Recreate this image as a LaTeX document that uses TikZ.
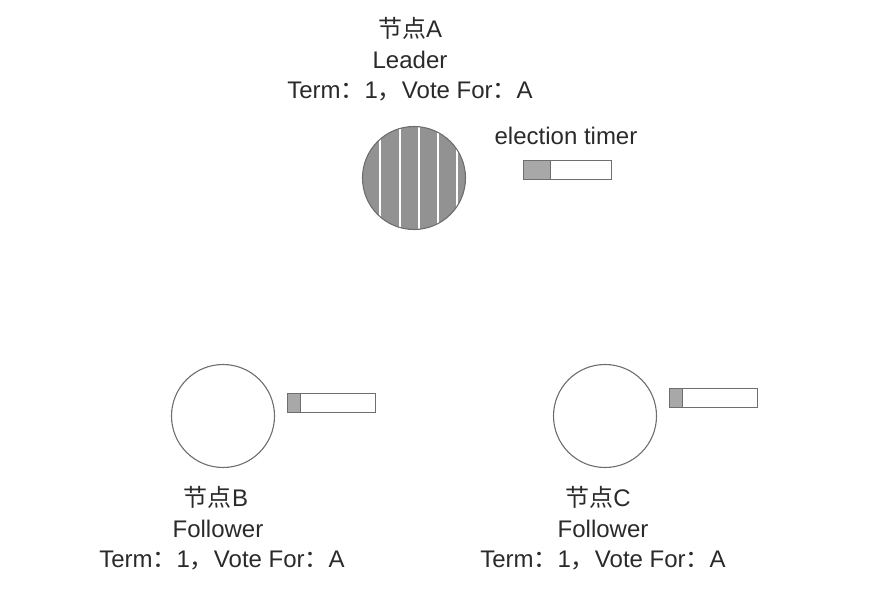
\documentclass[tikz,border=0pt]{standalone}
\usepackage{fontspec}
\setmainfont{Liberation Sans}
\newfontfamily\cjk{Noto Sans CJK SC}
\usetikzlibrary{positioning}

\definecolor{rim}{HTML}{6E6E6E}
\definecolor{ink}{HTML}{2A2A2A}
\definecolor{leaderfill}{HTML}{929292}
\definecolor{elapsed}{HTML}{A8A8A8}

\tikzset{
  txt/.style={text=ink,font=\fontsize{24}{28}\selectfont,inner sep=0pt},
  server/.style={circle,draw=rim,line width=1.1pt,minimum size=103pt,inner sep=0pt,fill=white},
  leader/.style={server,fill=leaderfill,
    path picture={\foreach \dx in {-34,-14,5,24,43}
      \draw[white,line width=2pt] ([xshift=\dx pt]path picture bounding box.north) -- ([xshift=\dx pt]path picture bounding box.south);}},
  timer/.style={draw=rim,line width=0.9pt,minimum width=88pt,minimum height=19pt,inner sep=0pt,fill=white,
    path picture={\fill[elapsed] (path picture bounding box.south west) rectangle ([xshift=#1]path picture bounding box.north west);
      \draw[rim,line width=0.9pt] ([xshift=#1]path picture bounding box.south west) -- ([xshift=#1]path picture bounding box.north west);}}
}

\begin{document}
\begin{tikzpicture}[x=1pt,y=-1pt,node distance=32pt]
\useasboundingbox (0,0) rectangle (890,602);

% node A (leader)
\node[leader] (a) at (414,178) {};
\node[timer=27pt] (atimer) at (567,169.5) {};
\node[txt] (atimerlbl) at (566,136) {election timer};
\node[txt] (aterm) at (410,92) {Term{\cjk ：}1{\cjk ，}Vote For{\cjk ：}A};
\node[txt] (arole) [above of=aterm] {Leader};
\node[txt] (aname) [above of=arole] {{\cjk 节点}A};

% node B
\node[server] (b) at (223,416) {};
\node[timer=13pt] (btimer) at (331,403) {};
\node[txt] (bname) at (216,497) {{\cjk 节点}B};
\node[txt] (brole) [below of=bname,xshift=2pt] {Follower};
\node[txt] (bterm) [below of=brole,xshift=4pt] {Term{\cjk ：}1{\cjk ，}Vote For{\cjk ：}A};

% node C
\node[server] (c) at (605,416) {};
\node[timer=13pt] (ctimer) at (713,398) {};
\node[txt] (cname) at (598,497) {{\cjk 节点}C};
\node[txt] (crole) [below of=cname,xshift=5pt] {Follower};
\node[txt] (cterm) [below of=crole] {Term{\cjk ：}1{\cjk ，}Vote For{\cjk ：}A};
\end{tikzpicture}
\end{document}
